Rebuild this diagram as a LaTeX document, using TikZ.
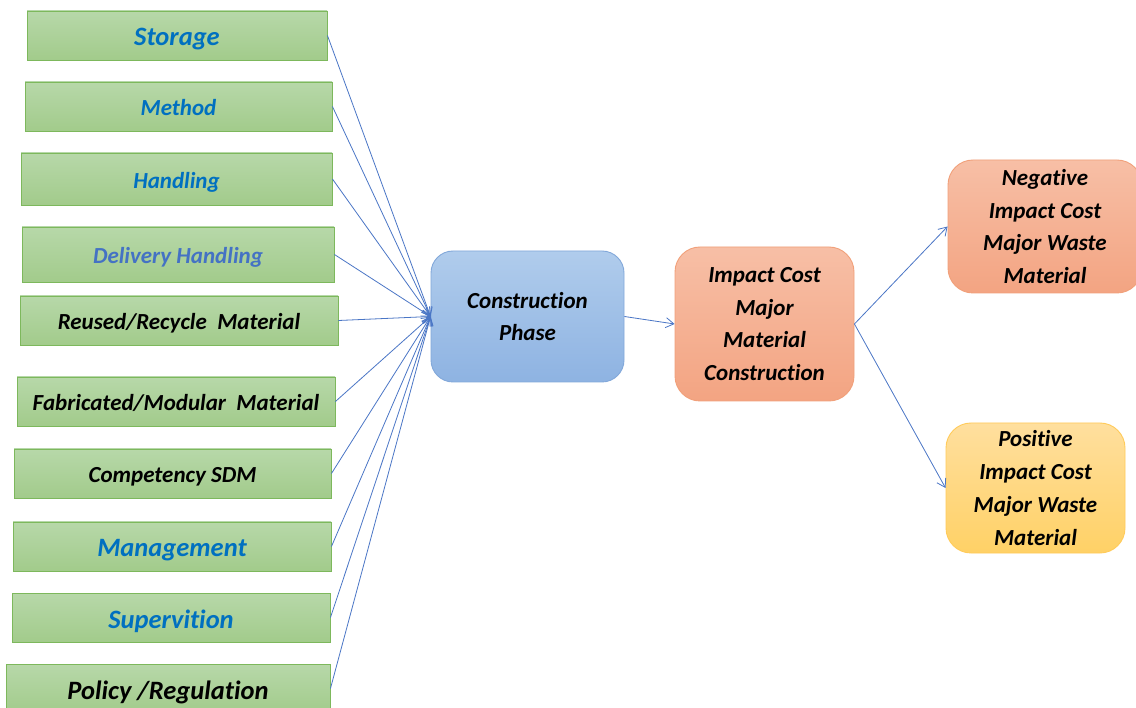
\documentclass[tikz,border=0pt]{standalone}
\usepackage{fontspec}
\setmainfont{Carlito}[Ligatures={NoCommon}]
\usetikzlibrary{arrows.meta}
\definecolor{gtop}{HTML}{B7D8A9}
\definecolor{gbot}{HTML}{A2CB8B}
\definecolor{gline}{HTML}{7DB85C}
\definecolor{tblue}{HTML}{0070C0}
\definecolor{tblue2}{HTML}{4472C4}
\definecolor{arr}{HTML}{4A76C6}
\definecolor{btop}{HTML}{B0CCEC}
\definecolor{bbot}{HTML}{8EB3E2}
\definecolor{bline}{HTML}{82A8DA}
\definecolor{otop}{HTML}{F7BFA6}
\definecolor{obot}{HTML}{F3A482}
\definecolor{oline}{HTML}{F1A07A}
\definecolor{ytop}{HTML}{FFDF9E}
\definecolor{ybot}{HTML}{FFD166}
\definecolor{yline}{HTML}{FFCB5A}
\tikzset{
  gbox/.style={draw=gline, line width=0.9pt, top color=gtop, bottom color=gbot,
    inner sep=0pt, text depth=0pt, font=\fontsize{23}{27}\selectfont\bfseries\itshape},
  bigtxt/.style={font=\fontsize{26.5}{31}\selectfont\bfseries\itshape},
  rbox/.style={line width=0.9pt, rounded corners=22pt, inner sep=0pt, align=center,
    font=\fontsize{23}{32.7}\selectfont\bfseries\itshape},
  conn/.style={draw=arr, line width=0.8pt, -{Straight Barb[length=8pt,width=10pt]}}
}
\newcommand{\lowtext}[1]{\raisebox{-2.5pt}{#1}}
\begin{document}
\begin{tikzpicture}[x=1pt,y=-1pt]
\clip (0,0) rectangle (1136,708);
\fill[white] (0,0) rectangle (1136,708);
\node[gbox, bigtxt, text=tblue, minimum width=300pt, minimum height=49pt] (n1) at (177,35.5) {\lowtext{Storage}};
\node[gbox, text=tblue, minimum width=307pt, minimum height=49pt] (n2) at (178.5,106.5) {\lowtext{Method}};
\node[gbox, text=tblue, minimum width=311pt, minimum height=52pt] (n3) at (176.5,179) {\lowtext{Handling}};
\node[gbox, text=tblue2, minimum width=312pt, minimum height=55pt] (n4) at (178,254.5) {\lowtext{Delivery Handling}};
\node[gbox, text=black, minimum width=318pt, minimum height=49pt] (n5) at (179,320.5) {\lowtext{Reused/Recycle\ \ Material}};
\node[gbox, text=black, minimum width=318pt, minimum height=49pt] (n6) at (176,401.5) {\lowtext{Fabricated/Modular\ \ Material}};
\node[gbox, text=black, minimum width=317pt, minimum height=49pt] (n7) at (172.5,473.5) {\lowtext{Competency SDM}};
\node[gbox, bigtxt, text=tblue, minimum width=318pt, minimum height=49pt] (n8) at (172,546.5) {\lowtext{Management}};
\node[gbox, bigtxt, text=tblue, minimum width=318pt, minimum height=49pt] (n9) at (171,617.5) {\lowtext{Supervition}};
\node[gbox, bigtxt, text=black, minimum width=324pt, minimum height=49pt] (n10) at (168,688.5) {\lowtext{Policy /Regulation}};
\node[rbox, draw=bline, top color=btop, bottom color=bbot, minimum width=193pt, minimum height=131pt] (cp) at (527.5,316.5) {Construction\\Phase};
\node[rbox, draw=oline, top color=otop, bottom color=obot, minimum width=179pt, minimum height=154pt, rounded corners=25pt] (imp) at (764.5,324) {Impact Cost\\Major\\Material\\Construction};
\node[rbox, draw=oline, top color=otop, bottom color=obot, minimum width=194pt, minimum height=133pt, rounded corners=25pt] (neg) at (1045,226.5) {Negative\\Impact Cost\\Major Waste\\Material};
\node[rbox, draw=yline, top color=ytop, bottom color=ybot, minimum width=179pt, minimum height=130pt, rounded corners=25pt] (pos) at (1035.5,488) {Positive\\Impact Cost\\Major Waste\\Material};
\foreach \n in {n1,n2,n3,n4,n5,n6,n7,n8,n9,n10}{
  \draw[conn] (\n.east) -- (cp.west);
}
\draw[conn] (cp.east) -- (imp.west);
\draw[conn] (imp.east) -- (neg.west);
\draw[conn] (imp.east) -- (pos.west);
\end{tikzpicture}
\end{document}
